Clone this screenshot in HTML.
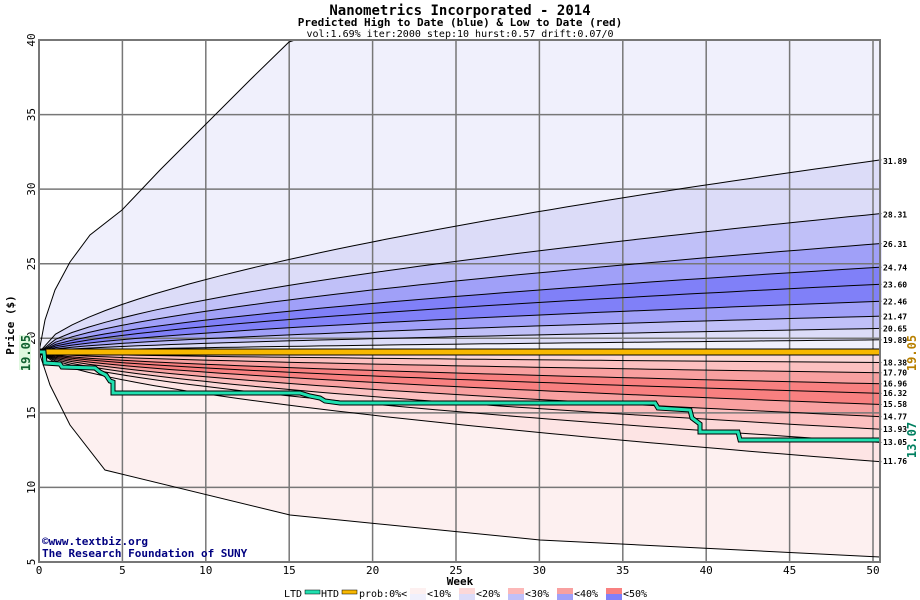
<!DOCTYPE html><html><head><style>body{margin:0;background:#fff;width:920px;height:600px;overflow:hidden}svg{display:block;font-family:"DejaVu Sans Mono","Liberation Mono",monospace}</style></head><body>
<svg id="s" width="920" height="600" xmlns="http://www.w3.org/2000/svg"></svg>
<script>
const s=document.getElementById('s');
const X=w=>39+w*16.68, Y=v=>40+(40-v)*14.914;
let h='';
h+='<rect x="39" y="40" width="841" height="522" fill="#fff"/>';
const up=[null,31.89,28.31,26.31,24.74,23.60,22.46,21.47,20.65,19.89];
const lo=[18.38,17.70,16.96,16.32,15.58,14.77,13.93,13.05,11.76];
const S=19.05,N=51;
function curve(v50,e){let p=[];for(let i=0;i<=N;i++){let w=i*50.5/N;p.push([X(w),Y(S+(v50-S)*Math.pow(w/50,e))]);}return p;}
const topEnv=[[39,352],[45,320],[55,290],[70,262],[90,235],[122,210],[160,170],[200,130],[250,80],[289,42],[295,40],[880,40]];
const lowEnv=[[39,352],[50,385],[70,425],[105,470],[290,515],[540,540],[880,557]];
const ptsU=[topEnv].concat(up.slice(1).map(v=>curve(v,0.6)));
ptsU.push([[39,352],[880,352]]);
const ptsL=[[[39,352],[880,352]]].concat(lo.map(v=>curve(v,0.6)));ptsL.push(lowEnv);
const str=p=>p.map(q=>q[0].toFixed(1)+','+q[1].toFixed(1)).join(' ');
const cu=['#f0f0fc','#dcdcf8','#c0c0f8','#a0a0f8','#8080f8','#8080f8','#a0a0f8','#c0c0f8','#dcdcf8','#f0f0fc'];
const cl=['#fcd8d8','#fcc0c0','#f8a0a0','#f88080','#f88080','#f8a0a0','#fcc0c0','#fcd8d8','#fde4e4','#fdf0f0'];
function band(a,b,c){h+=`<polygon points="${str(a)} ${str(b.slice().reverse())}" fill="${c}"/>`;}
for(let i=0;i<ptsU.length-1;i++)band(ptsU[i],ptsU[i+1],cu[i]);
for(let i=0;i<ptsL.length-1;i++)band(ptsL[i],ptsL[i+1],cl[i]);
for(let w=5;w<=50;w+=5)h+=`<line x1="${X(w)}" y1="40" x2="${X(w)}" y2="562" stroke="#777" stroke-width="1.5"/>`;
for(let v=10;v<=35;v+=5)h+=`<line x1="39" y1="${Y(v)}" x2="880" y2="${Y(v)}" stroke="#777" stroke-width="1.5"/>`;
ptsU.slice(0,-1).concat(ptsL.slice(1)).forEach(p=>h+=`<polyline points="${str(p)}" fill="none" stroke="#000" stroke-width="1"/>`);
h+='<rect x="39" y="349" width="841" height="6" fill="#f8b800" stroke="#000" stroke-width="1"/>';
const g=[[39,352],[44,352],[45,363],[60,364],[62,367],[95,368],[100,372],[106,375],[110,381],[113,382],[113,393],[300,393],[310,396],[320,398],[325,401],[340,403],[655,403],[658,408],[690,410],[692,418],[700,424],[700,432],[738,432],[740,440],[880,440]];
h+=`<polyline points="${str(g)}" fill="none" stroke="#000" stroke-width="5"/><polyline points="${str(g)}" fill="none" stroke="#20e0b0" stroke-width="3"/>`;
h+='<rect x="39" y="40" width="841" height="522" fill="none" stroke="#777" stroke-width="2"/>';
up.slice(1).forEach(v=>h+=`<text x="883" y="${Y(v)+3}" font-size="8" font-weight="bold">${v.toFixed(2)}</text>`);
lo.forEach(v=>h+=`<text x="883" y="${Y(v)+3}" font-size="8" font-weight="bold">${v.toFixed(2)}</text>`);
for(let w=0;w<=50;w+=5)h+=`<text x="${X(w)}" y="574" font-size="11" text-anchor="middle">${w}</text>`;
for(let v=5;v<=40;v+=5)h+=`<text transform="translate(35,${Y(v)}) rotate(-90)" font-size="11" text-anchor="middle">${v}</text>`;
h+='<text transform="translate(14,325) rotate(-90)" font-size="11" font-weight="bold" text-anchor="middle">Price ($)</text>';
h+='<rect x="19" y="335" width="12" height="35" fill="#e0f8e0"/><text transform="translate(30,353) rotate(-90)" font-size="12" font-weight="bold" fill="#106030" text-anchor="middle">19.05</text>';
h+='<text transform="translate(916,353) rotate(-90)" font-size="12" font-weight="bold" fill="#b88000" text-anchor="middle">19.05</text>';
h+='<text transform="translate(916,440) rotate(-90)" font-size="12" font-weight="bold" fill="#008060" text-anchor="middle">13.07</text>';
h+='<text x="460" y="15" font-size="14" font-weight="bold" text-anchor="middle">Nanometrics Incorporated - 2014</text>';
h+='<text x="460" y="26" font-size="11" font-weight="bold" text-anchor="middle">Predicted High to Date (blue) &amp;  Low to Date (red)</text>';
h+='<text x="460" y="37" font-size="10" text-anchor="middle">vol:1.69% iter:2000 step:10 hurst:0.57 drift:0.07/0</text>';
h+='<text x="42" y="545" font-size="11" font-weight="bold" fill="#000080">©www.textbiz.org</text><text x="42" y="557" font-size="11" font-weight="bold" fill="#000080">The Research Foundation of SUNY</text>';
h+='<text x="460" y="585" font-size="11" font-weight="bold" text-anchor="middle">Week</text>';
h+='<text x="284" y="597" font-size="10">LTD</text><rect x="305" y="590" width="15" height="4" fill="#20e0b0" stroke="#000" stroke-width=".5"/><text x="321" y="597" font-size="10">HTD</text><rect x="342" y="590" width="15" height="4" fill="#f8b800" stroke="#000" stroke-width=".5"/><text x="359" y="597" font-size="10">prob:0%&lt;</text>';
const lc=[['#fdf0f0','#f0f0fc'],['#fcd8d8','#dcdcf8'],['#fcb8b8','#c0c0f8'],['#f8a0a0','#a0a0f8'],['#f88080','#8080f8']];
['&lt;10%','&lt;20%','&lt;30%','&lt;40%','&lt;50%'].forEach((t,i)=>{let x=410+i*49;h+=`<rect x="${x}" y="588" width="16" height="6" fill="${lc[i][0]}"/><rect x="${x}" y="594" width="16" height="6" fill="${lc[i][1]}"/><text x="${x+17}" y="597" font-size="10">${t}</text>`;});
s.innerHTML=h;
</script></body></html>
